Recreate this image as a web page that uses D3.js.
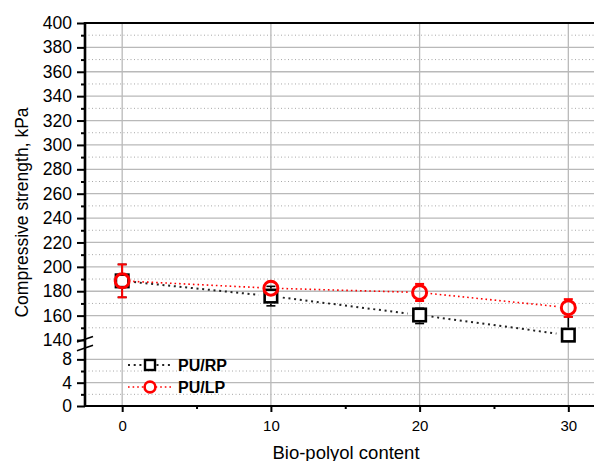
<!DOCTYPE html>
<html>
<head>
<meta charset="utf-8">
<script src="https://cdn.jsdelivr.net/npm/d3@7"></script>
<style>
  html, body { margin: 0; padding: 0; background: #fff; }
  svg { display: block; font-family: "Liberation Sans", Arial, sans-serif; }
</style>
</head>
<body>
<svg id="chart" width="594" height="461"></svg>
<script>
// Bio-polyol content (x) and compressive strength (kPa) for the two foams
const contents = [0, 10, 20, 30];
const rpStrength = [188.5, 176, 160.5, 144];
const rpErrUp = [13.5, 8, 5.5, 15];
const rpErrDown = [13.5, 8, 7, 0];
const lpStrength = [188.5, 182.5, 179, 166.5];
const lpErrUp = [13.5, 4, 7, 7];
const lpErrDown = [13.5, 4, 7, 7.5];

const seriesNames = ["PU/RP", "PU/LP"];
const xMajorTicks = [0, 10, 20, 30];
const xMinorTicks = [5, 15, 25];
const upperMajorTicks = [140, 160, 180, 200, 220, 240, 260, 280, 300, 320, 340, 360, 380, 400];
const upperMinorTicks = [150, 170, 190, 210, 230, 250, 270, 290, 310, 330, 350, 370, 390];
const lowerMajorTicks = [0, 4, 8];
const lowerMinorTicks = [2, 6];

const svg = d3.select("#chart");

const x = d3.scaleLinear().domain([-2.5, 32.5]).range([85, 605.5]);
const yU = d3.scaleLinear().domain([140, 400]).range([340, 23]);
const yL = d3.scaleLinear().domain([0, 10]).range([406, 347.7]);

const plotLeft = x.range()[0], plotRight = x.range()[1];
const plotTop = yU.range()[1], plotBottom = yL.range()[0];

const grid = svg.append("g");
const solidGrid = { stroke: "#b9b9b9", width: 1.3 };
const dotGrid = { stroke: "#a8a8a8", width: 1, dash: "1,2.5" };

function hLine(y, style) {
  grid.append("line")
    .attr("x1", plotLeft).attr("x2", plotRight).attr("y1", y).attr("y2", y)
    .attr("stroke", style.stroke).attr("stroke-width", style.width)
    .attr("stroke-dasharray", style.dash || null);
}
upperMajorTicks.filter(v => v > 140 && v < 400).forEach(v => hLine(yU(v), solidGrid));
upperMinorTicks.forEach(v => hLine(yU(v), dotGrid));
lowerMajorTicks.filter(v => v > 0).forEach(v => hLine(yL(v), solidGrid));
lowerMinorTicks.forEach(v => hLine(yL(v), dotGrid));
xMajorTicks.forEach(v => {
  grid.append("line")
    .attr("x1", x(v)).attr("x2", x(v)).attr("y1", plotTop).attr("y2", plotBottom)
    .attr("stroke", solidGrid.stroke).attr("stroke-width", solidGrid.width);
});

// Axes
function styleAxis(g, fontSize) {
  g.select(".domain").remove();
  g.selectAll(".tick line").attr("stroke", "#000").attr("stroke-width", 2);
  g.selectAll(".tick text").attr("fill", "#000").attr("font-size", fontSize)
    .attr("font-family", "Liberation Sans, Arial, sans-serif");
}
const axU = svg.append("g").attr("transform", `translate(${plotLeft},0)`)
  .call(d3.axisLeft(yU).tickValues(upperMajorTicks).tickSize(8).tickPadding(5));
styleAxis(axU, 17.5);
const axUm = svg.append("g").attr("transform", `translate(${plotLeft},0)`)
  .call(d3.axisLeft(yU).tickValues(upperMinorTicks).tickSize(4).tickFormat(""));
styleAxis(axUm, 17.5);
const axL = svg.append("g").attr("transform", `translate(${plotLeft},0)`)
  .call(d3.axisLeft(yL).tickValues(lowerMajorTicks).tickSize(8).tickPadding(5));
styleAxis(axL, 17.5);
const axLm = svg.append("g").attr("transform", `translate(${plotLeft},0)`)
  .call(d3.axisLeft(yL).tickValues(lowerMinorTicks).tickSize(4).tickFormat(""));
styleAxis(axLm, 17.5);
const axX = svg.append("g").attr("transform", `translate(0,${plotBottom})`)
  .call(d3.axisBottom(x).tickValues(xMajorTicks).tickSize(6).tickPadding(8));
styleAxis(axX, 15);
const axXm = svg.append("g").attr("transform", `translate(0,${plotBottom})`)
  .call(d3.axisBottom(x).tickValues(xMinorTicks).tickSize(3).tickFormat(""));
styleAxis(axXm, 15);

// Frame lines
svg.append("line").attr("x1", plotLeft).attr("x2", plotRight).attr("y1", plotTop).attr("y2", plotTop)
  .attr("stroke", "#000").attr("stroke-width", 2);
svg.append("line").attr("x1", plotLeft).attr("x2", plotRight).attr("y1", plotBottom).attr("y2", plotBottom)
  .attr("stroke", "#000").attr("stroke-width", 2);
svg.append("line").attr("x1", plotLeft).attr("x2", plotLeft).attr("y1", plotTop - 1).attr("y2", plotBottom + 1)
  .attr("stroke", "#000").attr("stroke-width", 2.6);

// Axis break marks
const breakTop = yU(140), breakBottom = yL(10);
[breakTop + 2, breakBottom + 3].forEach(yb => {
  svg.append("line")
    .attr("x1", plotLeft - 8).attr("y1", yb).attr("x2", plotLeft + 8).attr("y2", yb - 5.5)
    .attr("stroke", "#000").attr("stroke-width", 1.6);
});

// Axis titles
svg.append("text")
  .attr("transform", `translate(28,212.5) rotate(-90)`)
  .attr("text-anchor", "middle").attr("font-size", 17.5).attr("fill", "#000")
  .text("Compressive strength, kPa");
svg.append("text")
  .attr("x", 346).attr("y", 459)
  .attr("text-anchor", "middle").attr("font-size", 18.5).attr("fill", "#000")
  .text("Bio-polyol content");

// Connecting lines with a gap at each symbol
function gapSegments(values, gap) {
  const pts = contents.map((c, i) => [x(c), yU(values[i])]);
  const segs = [];
  for (let i = 0; i < pts.length - 1; i++) {
    const [x1, y1] = pts[i], [x2, y2] = pts[i + 1];
    const len = Math.hypot(x2 - x1, y2 - y1);
    const ux = (x2 - x1) / len, uy = (y2 - y1) / len;
    segs.push([[x1 + ux * gap, y1 + uy * gap], [x2 - ux * gap, y2 - uy * gap]]);
  }
  return segs;
}
const lineGen = d3.line();

// Error bars: stem starts at the symbol edge, cap drawn at the error end
function drawErrorBars(g, values, up, down, edge, minCap, color, width) {
  const bar = (cx, cy, yEnd, dir) => {
    const len = Math.abs(yEnd - cy);
    if (len > edge) {
      g.append("line").attr("x1", cx).attr("x2", cx).attr("y1", cy + dir * edge).attr("y2", yEnd)
        .attr("stroke", color).attr("stroke-width", width);
    }
    if (len > minCap) {
      g.append("line").attr("x1", cx - 4.5).attr("x2", cx + 4.5).attr("y1", yEnd).attr("y2", yEnd)
        .attr("stroke", color).attr("stroke-width", width);
    }
  };
  contents.forEach((c, i) => {
    const cx = x(c), cy = yU(values[i]);
    bar(cx, cy, yU(values[i] + up[i]), -1);
    bar(cx, cy, yU(values[i] - down[i]), 1);
  });
}

// PU/RP series
const gRP = svg.append("g");
gapSegments(rpStrength, 12).forEach(s => {
  gRP.append("path").attr("d", lineGen(s)).attr("fill", "none")
    .attr("stroke", "#222").attr("stroke-width", 2).attr("stroke-dasharray", "2,3.7");
});
const sq = 12.5;
gRP.selectAll("rect").data(contents).join("rect")
  .attr("x", (d) => x(d) - sq / 2)
  .attr("y", (d, i) => yU(rpStrength[i]) - sq / 2)
  .attr("width", sq).attr("height", sq)
  .attr("fill", "#fff").attr("stroke", "#000").attr("stroke-width", 2.6);
drawErrorBars(gRP, rpStrength, rpErrUp, rpErrDown, sq / 2 + 1.3, 5, "#000", 1.6);

// PU/LP series (open circles)
const gLP = svg.append("g");
gapSegments(lpStrength, 11).forEach(s => {
  gLP.append("path").attr("d", lineGen(s)).attr("fill", "none")
    .attr("stroke", "#f00").attr("stroke-width", 1.6).attr("stroke-dasharray", "1.6,3");
});
drawErrorBars(gLP, lpStrength, lpErrUp, lpErrDown, 8.5, 7, "#f00", 2);
gLP.selectAll("circle").data(contents).join("circle")
  .attr("cx", (d) => x(d))
  .attr("cy", (d, i) => yU(lpStrength[i]))
  .attr("r", 7)
  .attr("fill", "none").attr("stroke", "#f00").attr("stroke-width", 3);

// Legend
const legend = svg.append("g");
const legendRows = [
  { name: seriesNames[0], y: 365, color: "#222", dash: "2,3.7", w: 2 },
  { name: seriesNames[1], y: 387, color: "#f00", dash: "1.6,3", w: 1.6 }
];
legendRows.forEach((r, i) => {
  legend.append("line").attr("x1", 128).attr("x2", 171).attr("y1", r.y).attr("y2", r.y)
    .attr("stroke", r.color).attr("stroke-width", r.w).attr("stroke-dasharray", r.dash);
  if (i === 0) {
    legend.append("rect").attr("x", 145).attr("y", r.y - 5).attr("width", 10).attr("height", 10)
      .attr("fill", "#fff").attr("stroke", "#000").attr("stroke-width", 2.4);
  } else {
    legend.append("circle").attr("cx", 150).attr("cy", r.y).attr("r", 5.4)
      .attr("fill", "#fff").attr("stroke", "#f00").attr("stroke-width", 2.6);
  }
  legend.append("text").attr("x", 178).attr("y", r.y + 6)
    .attr("font-size", 16).attr("font-weight", "bold").attr("fill", "#000")
    .text(r.name);
});
</script>
</body>
</html>
